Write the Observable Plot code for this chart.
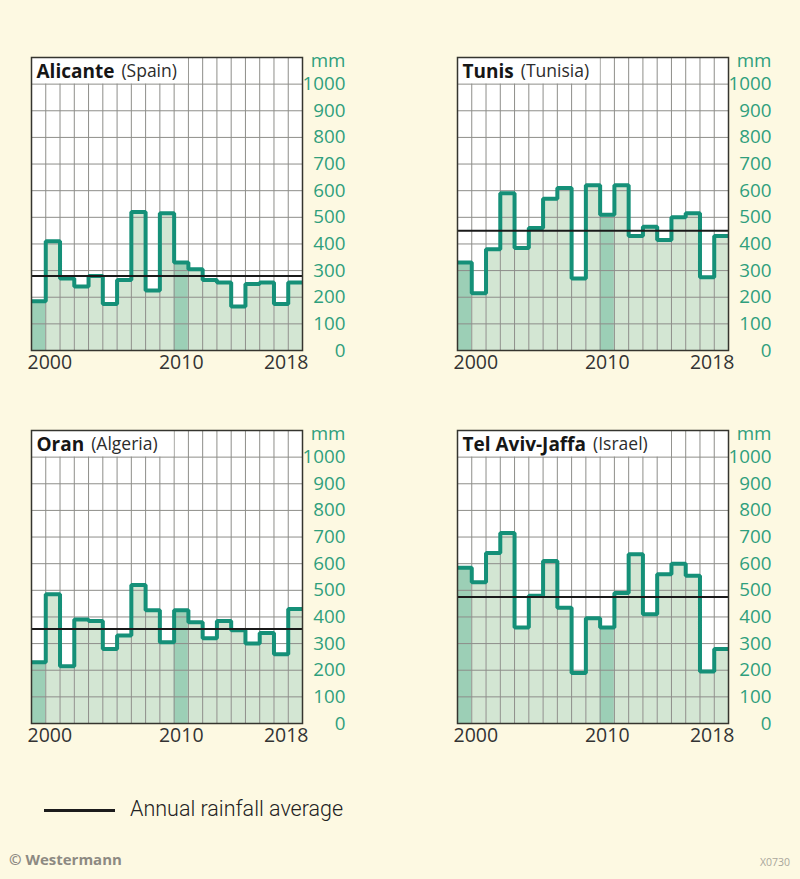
<!DOCTYPE html>
<html><head><meta charset="utf-8">
<script src="https://cdn.jsdelivr.net/npm/d3@7"></script>
<script src="https://cdn.jsdelivr.net/npm/@observablehq/plot@0.6"></script>
<style>
html,body{margin:0;padding:0;background:#fdf9e2;}
#root{position:relative;width:800px;height:879px;background:#fdf9e2;font-family:"Open Sans",sans-serif;overflow:hidden}
.panel{position:absolute}
.legend-line{position:absolute;left:44px;top:809px;width:71px;height:2.5px;background:#1c1c1c}
.legend-text{position:absolute;left:130px;top:795px;font-family:Roboto,sans-serif;font-weight:300;font-size:21.5px;color:#222;line-height:28px}
.copy{position:absolute;left:9px;top:849px;font-family:"Open Sans",sans-serif;font-weight:700;font-size:15px;color:#8d8a82}
.code{position:absolute;right:10px;top:855px;font-family:"Open Sans",sans-serif;font-size:10.5px;color:#a9a69c}
</style></head><body><div id="root"></div>
<script>
// ---- data ----
const years = [2000,2001,2002,2003,2004,2005,2006,2007,2008,2009,2010,2011,2012,2013,2014,2015,2016,2017,2018];
const cities = ["Alicante","Tunis","Oran","Tel Aviv-Jaffa"];
const countries = ["(Spain)","(Tunisia)","(Algeria)","(Israel)"];
const alicante = [185,410,270,240,280,175,265,520,225,515,330,305,265,255,165,250,255,175,255];
const tunis    = [330,215,380,590,385,460,570,610,270,620,510,620,430,465,415,500,515,275,430];
const oran     = [230,485,215,390,385,280,330,520,425,305,425,380,320,385,350,300,340,260,430];
const telAviv  = [585,530,640,715,360,480,610,435,190,395,360,490,635,410,560,600,555,195,280];
const averages = [280,450,355,475];
const highlightYears = [2000,2010];
const yTicks = [0,100,200,300,400,500,600,700,800,900,1000];
const xTickLabels = [2000,2010,2018];
const unitLabel = "mm";
const legendLabel = "Annual rainfall average";

// ---- styling / layout ----
const series = [alicante, tunis, oran, telAviv];
const titleBoxEnd = [2011, 2010, 2010, 2015];
const panelPos = [[0,0],[426,0],[0,373],[426,373]];
const C = {
  light:"#d3e6d3", dark:"#9ccfb6", line:"#159078", grid:"#8e8e8a",
  tick:"#2f9f7d", frame:"#35352f", avg:"#1a1a1a", label:"#333"
};
const FONT = '"Open Sans", sans-serif';

function textWidth(str, font){
  const c = textWidth.c || (textWidth.c = document.createElement("canvas").getContext("2d"));
  c.font = font; return c.measureText(str).width;
}

function panel(idx){
  const values = series[idx];
  const rows = years.map((yr,i)=>({year:yr, value:values[i], fill: highlightYears.includes(yr) ? C.dark : C.light}));
  const last = years[years.length-1] + 1;
  const stepPts = [...rows, {year:last, value:values[values.length-1]}];
  const nameW = textWidth(cities[idx], `bold 19px ${FONT}`);
  return Plot.plot({
    width:400, height:373, marginLeft:31, marginRight:98, marginTop:57, marginBottom:23,
    x:{domain:[years[0], last], axis:null},
    y:{domain:[0,1100], axis:null},
    color:{type:"identity"},
    style:{background:"transparent", fontFamily:FONT, overflow:"visible"},
    marks:[
      Plot.frame({fill:"white"}),
      Plot.rect(rows, {x1:"year", x2:d=>d.year+1, y1:0, y2:"value", fill:"fill"}),
      Plot.ruleX(years.slice(1), {x:d=>d, stroke:C.grid, strokeWidth:1}),
      Plot.rect([0], {x1:years[0], x2:titleBoxEnd[idx], y1:1000, y2:1100, fill:"white"}),
      Plot.ruleY(yTicks.slice(1), {y:d=>d, stroke:C.grid, strokeWidth:1}),
      Plot.line(stepPts, {x:"year", y:"value", curve:"step-after", stroke:C.line, strokeWidth:4, strokeLinejoin:"miter", strokeLinecap:"butt"}),
      Plot.ruleY([averages[idx]], {y:d=>d, stroke:C.avg, strokeWidth:2}),
      Plot.frame({stroke:C.frame, strokeWidth:1.5}),
      Plot.text(yTicks, {x:last, y:d=>d, text:d=>String(d), textAnchor:"end", dx:43, fill:C.tick, fontSize:18.8}),
      Plot.text([unitLabel], {x:last, y:1100, text:d=>d, textAnchor:"end", dx:43, dy:3, fill:C.tick, fontSize:18.8}),
      Plot.text([xTickLabels[0]], {x:d=>d, y:0, text:d=>String(d), textAnchor:"start", dx:-4, dy:12, fill:C.label, fontSize:19.5}),
      Plot.text([xTickLabels[1]], {x:d=>d+0.5, y:0, text:d=>String(d), textAnchor:"middle", dy:12, fill:C.label, fontSize:19.5}),
      Plot.text([xTickLabels[2]], {x:d=>d+1, y:0, text:d=>String(d), textAnchor:"end", dx:6, dy:12, fill:C.label, fontSize:19.5}),
      Plot.text([cities[idx]], {x:years[0], y:1100, text:d=>d, textAnchor:"start", dx:5, dy:14, fontWeight:"bold", fontSize:19, fill:"#161616"}),
      Plot.text([countries[idx]], {x:years[0], y:1100, text:d=>d, textAnchor:"start", dx:5+nameW+7, dy:14, fontSize:17.5, fill:"#2c2c2c"})
    ]
  });
}

const root = document.getElementById("root");
series.forEach((_,i)=>{
  const el = panel(i);
  el.classList.add("panel");
  el.style.left = panelPos[i][0]+"px";
  el.style.top = panelPos[i][1]+"px";
  root.appendChild(el);
});
const ll = document.createElement("div"); ll.className="legend-line"; root.appendChild(ll);
const lt = document.createElement("div"); lt.className="legend-text"; lt.textContent = legendLabel; root.appendChild(lt);
const cp = document.createElement("div"); cp.className="copy"; cp.textContent="© Westermann"; root.appendChild(cp);
const cd = document.createElement("div"); cd.className="code"; cd.textContent="X0730"; root.appendChild(cd);
</script>
</body></html>
